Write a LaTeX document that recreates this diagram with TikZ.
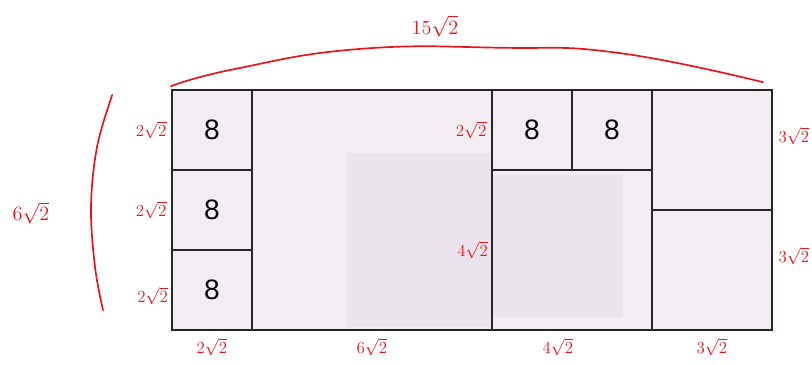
\documentclass[tikz,border=0pt]{standalone}
\usepackage{amsmath}
\usepackage{fontspec}
\newfontfamily\digitfont{Liberation Sans}
\usetikzlibrary{positioning}
\definecolor{paper}{HTML}{F3ECF3}
\definecolor{faint}{HTML}{ECE4EC}
\definecolor{ink}{HTML}{E8141C}

\begin{document}
\begin{tikzpicture}[
    sq/.style={draw=black!85, line width=1.2pt, anchor=south west, inner sep=0pt,
      font=\digitfont\fontsize{20}{24}\selectfont},
    len/.style={text=ink, font=\large, inner sep=1pt},
    pen/.style={ink, line width=1.2pt, line cap=round}
  ]
  \useasboundingbox (-4.275,-0.85) rectangle (16.025,8.275);

  % Paper and faint print-through
  \fill[paper] (0,0) rectangle (15,6);
  \fill[faint] (4.4,0.1) rectangle (8,4.45);
  \fill[faint] (8.05,0.35) rectangle (11.3,3.9);

  % Squares
  \node[sq, minimum size=2cm] (a1) at (0,4) {8};
  \node[sq, minimum size=2cm] (a2) at (0,2) {8};
  \node[sq, minimum size=2cm] (a3) at (0,0) {8};
  \node[sq, minimum size=6cm] (b) at (2,0) {};
  \node[sq, minimum size=2cm] (c1) at (8,4) {8};
  \node[sq, minimum size=2cm] (c2) at (10,4) {8};
  \node[sq, minimum size=4cm] (d) at (8,0) {};
  \node[sq, minimum size=3cm] (e1) at (12,3) {};
  \node[sq, minimum size=3cm] (e2) at (12,0) {};

  % Side lengths
  \node[len, left=2pt of a1] {$2\sqrt{2}$};
  \node[len, left=2pt of a2] {$2\sqrt{2}$};
  \node[len, left=1pt of a3, yshift=-4pt] {$2\sqrt{2}$};
  \node[len, left=2pt of c1] {$2\sqrt{2}$};
  \node[len, left=1pt of d] {$4\sqrt{2}$};
  \node[len, right=3pt of e1, yshift=10pt] {$3\sqrt{2}$};
  \node[len, right=3pt of e2, yshift=10pt] {$3\sqrt{2}$};
  \node[len, below=4pt of a3] {$2\sqrt{2}$};
  \node[len, below=4pt of b] {$6\sqrt{2}$};
  \node[len, below=4pt of d, xshift=-10pt] {$4\sqrt{2}$};
  \node[len, below=4pt of e2] {$3\sqrt{2}$};

  % Totals
  \draw[pen] plot[smooth, tension=0.8] coordinates
    {(0,6.12) (1.6,6.55) (4.7,7.05) (8.3,7.08) (11.2,6.95) (14.8,6.22)};
  \node[len, font=\Large] (width) at (6.6,7.62) {$15\sqrt{2}$};
  \draw[pen] plot[smooth, tension=0.6] coordinates
    {(-1.47,5.9) (-1.85,4.6) (-2.0,3.1) (-1.9,1.6) (-1.7,0.52)};
  \node[len, font=\Large] (height) at (-3.5,2.95) {$6\sqrt{2}$};
\end{tikzpicture}
\end{document}
